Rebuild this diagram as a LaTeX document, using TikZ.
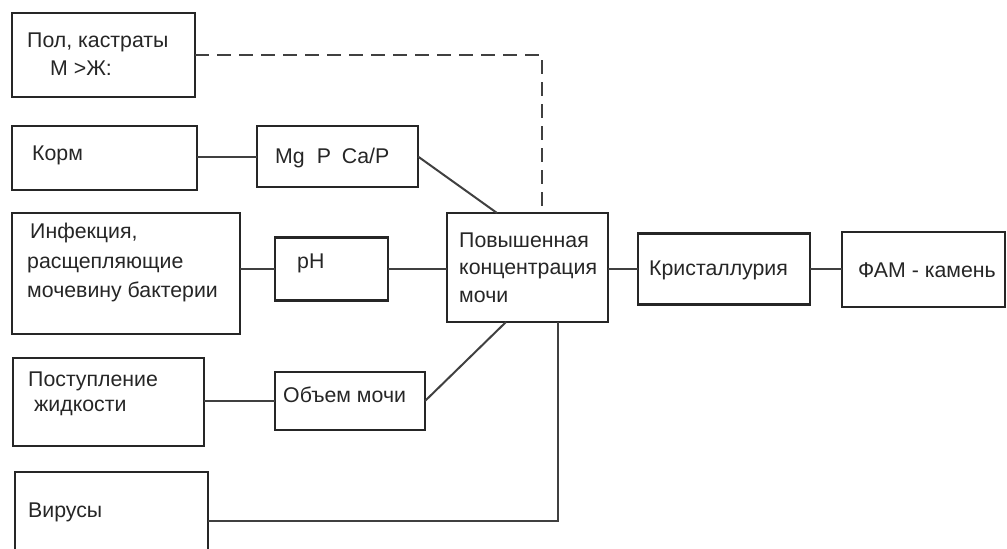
\documentclass[tikz,border=0pt]{standalone}
\usepackage{fontspec}
\setmainfont{Liberation Sans}
\tikzset{
  box/.style={draw=black!85, line width=2.3pt, inner sep=0pt, outer sep=0pt, fill=white},
  txt/.style={font=\fontsize{21.3}{28}\selectfont, inner sep=0pt, anchor=west, align=left, text=black!85},
  link/.style={draw=black!75, line width=2pt},
  dashlink/.style={link, dash pattern=on 14pt off 8pt}
}
\begin{document}
\begin{tikzpicture}[x=1pt,y=-1pt]
\useasboundingbox (0,0) rectangle (1007,549);
\clip (0,0) rectangle (1007,549);
% boxes
\node[box, minimum width=183pt, minimum height=84pt]  (b1)      at (103.5,55)  {};
\node[box, minimum width=185pt, minimum height=64pt]  (korm)    at (104.5,158) {};
\node[box, minimum width=161pt, minimum height=61pt]  (mg)      at (337.5,156.5) {};
\node[box, minimum width=228pt, minimum height=121pt] (inf)     at (126,273.5) {};
\node[box, minimum width=113pt, minimum height=63pt]  (ph)      at (331.5,269) {};
\node[box, minimum width=161pt, minimum height=109pt] (central) at (527.5,267.5) {};
\node[box, minimum width=172pt, minimum height=71pt]  (kris)    at (724,269) {};
\node[box, minimum width=163pt, minimum height=75pt]  (fam)     at (923.5,269.5) {};
\node[box, minimum width=191pt, minimum height=88pt]  (post)    at (108.5,402) {};
\node[box, minimum width=150pt, minimum height=58pt]  (obj)     at (350,401) {};
\node[box, minimum width=193pt, minimum height=98pt]  (vir)     at (111.5,521) {};
% texts
\node[txt] (b1t)   at (27,54)    {Пол, кастраты\\\hspace*{23pt}М >Ж:};
\node[txt] (kormt) at (32,155)   {Корм};
\node[txt] (mgt)   at (275,158)  {Mg\hspace{12pt}P\hspace{11pt}Ca/P};
\node[txt, font=\fontsize{21.3}{29.5}\selectfont] (inft) at (27,262.5) {\hspace*{3pt}Инфекция,\\расщепляющие\\мочевину бактерии};
\node[txt] (pht)   at (297,263)  {pH};
\node[txt, font=\fontsize{21.3}{27.5}\selectfont] (centralt) at (459,267.5) {Повышенная\\концентрация\\мочи};
\node[txt] (krist) at (649,270)  {Кристаллурия};
\node[txt] (famt)  at (858,270)  {ФАМ - камень};
\node[txt, font=\fontsize{21.3}{25}\selectfont] (postt) at (28,394) {Поступление\\\hspace*{6pt}жидкости};
\node[txt] (objt)  at (283,395)  {Объем мочи};
\node[txt] (virt)  at (28,512)   {Вирусы};
% connectors
\draw[dashlink] (b1.east) -| ([xshift=14.5pt]central.north);
\draw[link] (mg.west) -- (mg.west -| korm.east);
\draw[link] (mg.east) -- ([xshift=50pt]central.north west);
\draw[link] (ph.west) -- (ph.west -| inf.east);
\draw[link] (ph.east) -- (ph.east -| central.west);
\draw[link] (kris.west -| central.east) -- (kris.west);
\draw[link] (kris.east) -- (kris.east -| fam.west);
\draw[link] (obj.west) -- (obj.west -| post.east);
\draw[link] (obj.east) -- ([xshift=59pt]central.south west);
\draw[link] (vir.east) -| ([xshift=30.5pt]central.south);
\end{tikzpicture}
\end{document}
